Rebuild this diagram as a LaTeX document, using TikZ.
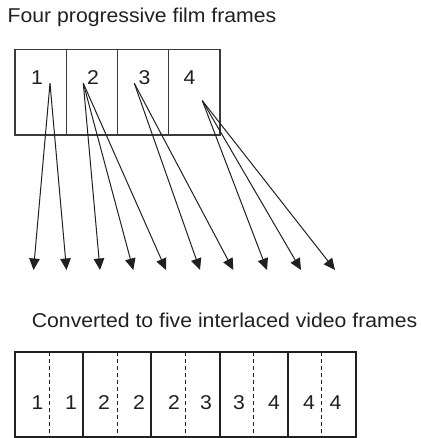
\documentclass[tikz,border=0pt]{standalone}
\usepackage{fontspec}
\setmainfont{Liberation Sans}[FakeStretch=1.06]
\usepackage{tikz}
\usetikzlibrary{arrows.meta,positioning}
\definecolor{ink}{HTML}{231F20}
\definecolor{framegray}{HTML}{3A3A3A}

\begin{document}
\begin{tikzpicture}[x=1pt,y=1pt,>={Triangle[length=11.5pt,width=10.5pt]},font=\fontsize{20}{24}\selectfont,text=ink]
\useasboundingbox (0,0) rectangle (420,-438);
\tikzset{
  filmcell/.style={draw=framegray,line width=1.2pt,minimum width=51.25pt,minimum height=85.7pt,inner sep=0pt,outer sep=0pt},
  videocell/.style={draw=ink,line width=2pt,minimum width=68.2pt,minimum height=84.4pt,inner sep=0pt,outer sep=0pt},
  numlabel/.style={inner sep=0pt},
  fieldline/.style={draw=ink,line width=1pt,dash pattern=on 4pt off 3pt}
}
% four film frames
\node[anchor=base west,inner sep=0pt] (filmtitle) at (7.5,-22.7) {Four progressive film frames};
\node[filmcell] (film1) at (40.6,-92.2) {};
\node[filmcell,right=0pt of film1] (film2) {};
\node[filmcell,right=0pt of film2] (film3) {};
\node[filmcell,right=0pt of film3] (film4) {};
\node[numlabel] (n1) at (37,-78) {1};
\node[numlabel] (n2) at (93,-78) {2};
\node[numlabel] (n3) at (144.5,-78) {3};
\node[numlabel] (n4) at (189.5,-78) {4};
\coordinate (src1) at (50,-83.3);
\coordinate (src2) at (83.3,-83.3);
\coordinate (src3) at (134.3,-83.3);
\coordinate (src4) at (202.3,-100.7);
% field positions below
\coordinate (fld0) at (33.5,-270);
\coordinate (fld1) at (66.5,-270);
\coordinate (fld2) at (100,-270);
\coordinate (fld3) at (133.3,-270);
\coordinate (fld4) at (166,-270);
\coordinate (fld5) at (200,-270);
\coordinate (fld6) at (233.3,-270);
\coordinate (fld7) at (267,-270);
\coordinate (fld8) at (301,-270);
\coordinate (fld9) at (335,-270);
\draw[->,ink,line width=1pt] (src1)--(fld0);
\draw[->,ink,line width=1pt] (src1)--(fld1);
\draw[->,ink,line width=1pt] (src2)--(fld2);
\draw[->,ink,line width=1pt] (src2)--(fld3);
\draw[->,ink,line width=1pt] (src2)--(fld4);
\draw[->,ink,line width=1pt] (src3)--(fld5);
\draw[->,ink,line width=1pt] (src3)--(fld6);
\draw[->,ink,line width=1pt] (src4)--(fld7);
\draw[->,ink,line width=1pt] (src4)--(fld8);
\draw[->,ink,line width=1pt] (src4)--(fld9);
% five interlaced video frames
\node[anchor=base west,inner sep=0pt] (videotitle) at (31.7,-327.7) {Converted to five interlaced video frames};
\node[videocell] (video1) at (49.1,-394.5) {};
\node[videocell,right=0pt of video1] (video2) {};
\node[videocell,right=0pt of video2] (video3) {};
\node[videocell,right=0pt of video3] (video4) {};
\node[videocell,right=0pt of video4] (video5) {};
\draw[fieldline] (video1.north)--(video1.south);
\draw[fieldline] (video2.north)--(video2.south);
\draw[fieldline] (video3.north)--(video3.south);
\draw[fieldline] (video4.north)--(video4.south);
\draw[fieldline] (video5.north)--(video5.south);
\node[numlabel] (v1a) at (37.5,-402.5) {1};
\node[numlabel] (v1b) at (71,-402.5) {1};
\node[numlabel] (v2a) at (104,-402.5) {2};
\node[numlabel] (v2b) at (139,-402.5) {2};
\node[numlabel] (v3a) at (174,-402.5) {2};
\node[numlabel] (v3b) at (206,-402.5) {3};
\node[numlabel] (v4a) at (239,-402.5) {3};
\node[numlabel] (v4b) at (274,-402.5) {4};
\node[numlabel] (v5a) at (309,-402.5) {4};
\node[numlabel] (v5b) at (335.5,-402.5) {4};
\end{tikzpicture}
\end{document}
